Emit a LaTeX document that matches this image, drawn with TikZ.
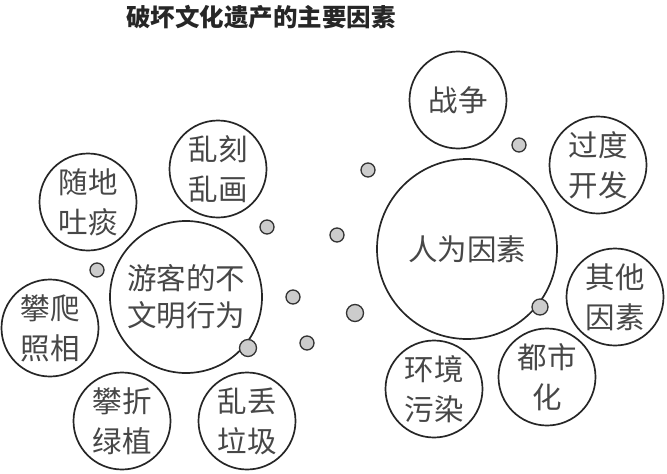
\documentclass[tikz,border=0pt]{standalone}
\usepackage{fontspec}
\newfontfamily\cjk{Noto Sans CJK SC}
\begin{document}
\begin{tikzpicture}[x=1pt,y=-1pt,
  bub/.style={circle,draw=black!85,line width=1.7pt,inner sep=0pt,minimum size=97pt,
    align=center,text=black!72,font=\cjk\fontsize{29.5}{40}\selectfont},
  dot/.style={circle,draw=black!80,line width=1.3pt,fill=black!20,inner sep=0pt,minimum size=14pt}]
  \useasboundingbox (0,0) rectangle (667,474);
  \node[font=\cjk\bfseries\fontsize{24.5}{24.5}\selectfont,text=black!85] (title) at (261,17) {破坏文化遗产的主要因素};
  % left group
  \node[bub,minimum size=152pt,font=\cjk\fontsize{29.5}{37}\selectfont] (youke) at (186,297) {游客的不\\文明行为};
  \node[bub] (tutan) at (88,202) {随地\\吐痰};
  \node[bub] (kehua) at (218,169) {乱刻\\乱画};
  \node[bub] (panpa) at (50,328) {攀爬\\照相};
  \node[bub] (panzhe) at (122,421) {攀折\\绿植};
  \node[bub] (ladiu) at (247,421) {乱丢\\垃圾};
  % right group
  \node[bub,minimum size=180pt] (renwei) at (467,249) {人为因素};
  \node[bub] (zhanzheng) at (458,100) {战争};
  \node[bub] (kaifa) at (598,165) {过度\\开发};
  \node[bub] (qita) at (615,297) {其他\\因素};
  \node[bub] (dushi) at (547,377) {都市\\化};
  \node[bub] (wuran) at (434,389) {环境\\污染};
  % small dots
  \node[dot] (d1) at (267,227) {};
  \node[dot] (d2) at (337,235) {};
  \node[dot] (d3) at (97,270) {};
  \node[dot] (d4) at (293,297) {};
  \node[dot,minimum size=17pt] (d5) at (355,313) {};
  \node[dot] (d6) at (307,343) {};
  \node[dot,minimum size=17pt] (d7) at (248,348) {};
  \node[dot] (d8) at (368,170) {};
  \node[dot] (d9) at (519,145) {};
  \node[dot,minimum size=16pt] (d10) at (540,307) {};
\end{tikzpicture}
\end{document}
